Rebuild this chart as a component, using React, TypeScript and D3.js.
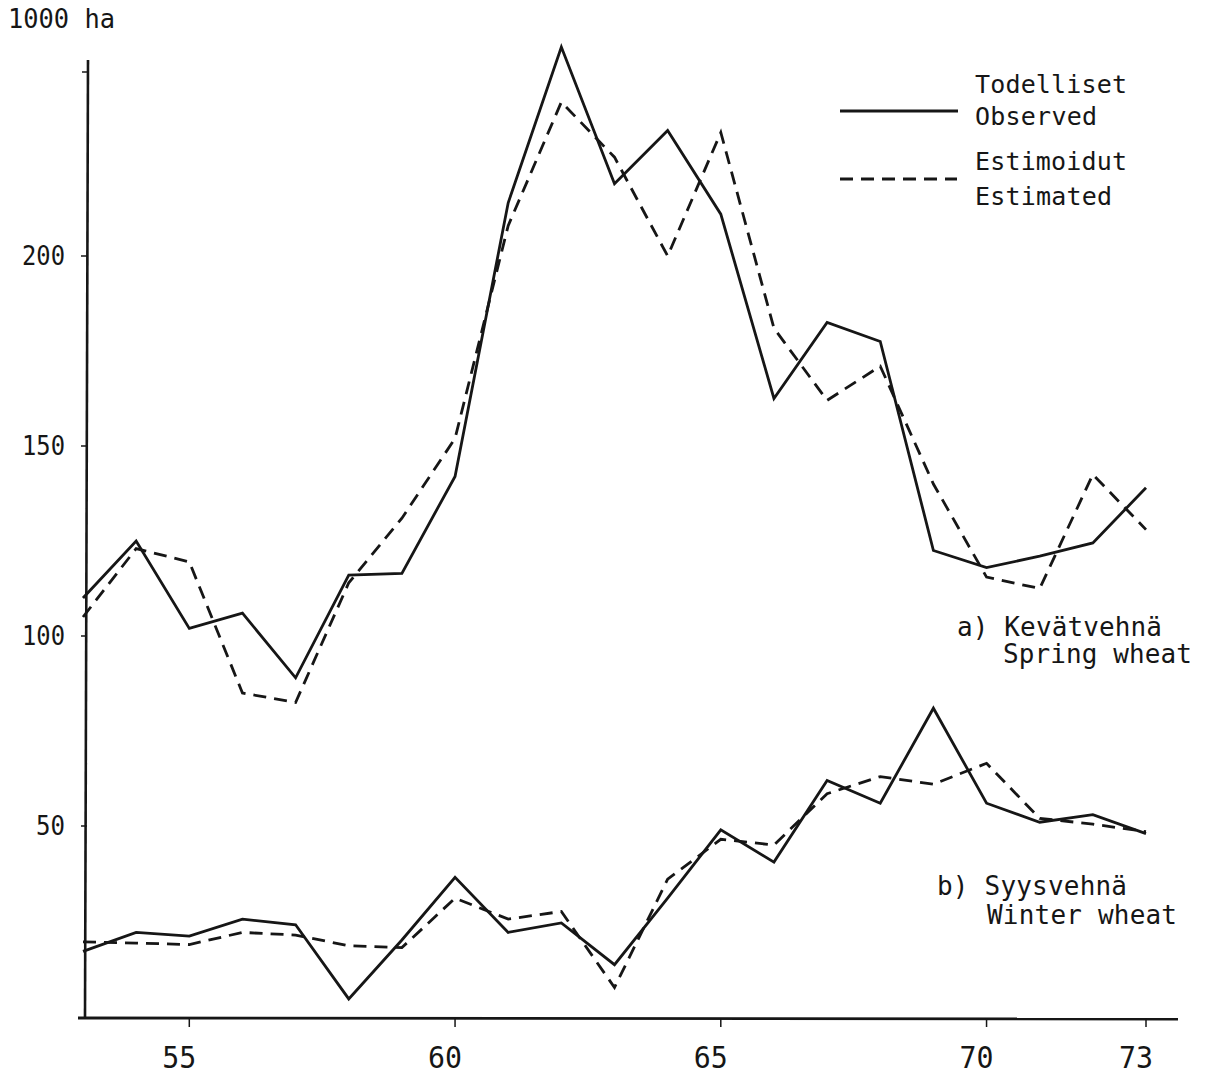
import * as d3 from "d3";

const years = d3.range(1953, 1974);

// spring wheat, 1000 ha
const springObserved = [110, 125, 102, 106, 89, 116, 116.5, 142, 214, 255, 219, 233, 211, 162.5, 182.5, 177.5, 122.5, 118, 121, 124.5, 139];
const springEstimated = [105, 123, 119.5, 85, 82.5, 114, 131, 152, 208, 240.5, 226, 200, 232.5, 181, 162, 171, 140, 115.5, 112.5, 142.5, 128];

// winter wheat, 1000 ha
const winterObserved = [17, 22, 21, 25.5, 24, 4.5, 20, 36.5, 22, 24.5, 13.5, 31, 49, 40.5, 62, 56, 81, 56, 51, 53, 48];
const winterEstimated = [19.5, 19.2, 18.8, 22, 21.3, 18.5, 18, 31, 25.5, 27.5, 7.5, 36, 46.5, 45, 58.5, 63, 61, 66.5, 52, 50.5, 48.5];

const xTicks = [1955, 1960, 1965, 1970, 1973];
const yTicks = [50, 100, 150, 200];

const W = 1205;
const H = 1075;
const FONT = "'DejaVu Sans Mono', 'Liberation Mono', monospace";
const INK = "#161616";

export default function App() {
  const x = d3.scaleLinear().domain([1953, 1973]).range([83, 1146]);
  const y = d3.scaleLinear().domain([0, 200]).range([1016, 256]);

  const line = d3
    .line<number>()
    .x((_, i) => x(years[i]))
    .y((d) => y(d));

  const series = [
    { values: springObserved, dashed: false },
    { values: springEstimated, dashed: true },
    { values: winterObserved, dashed: false },
    { values: winterEstimated, dashed: true },
  ];

  return (
    <svg width={W} height={H} style={{ position: "absolute", left: 0, top: 0, background: "#fff" }}>
      <rect width={W} height={H} fill="#fff" />

      {/* unit label */}
      <text x={8} y={28} fontFamily={FONT} fontSize={26} fill={INK} textLength={107} lengthAdjust="spacingAndGlyphs">
        1000 ha
      </text>

      {/* y axis */}
      <line x1={88} y1={60} x2={85} y2={1018} stroke={INK} strokeWidth={2.6} />
      <line x1={82} y1={72} x2={88} y2={72} stroke={INK} strokeWidth={1.5} />
      {yTicks.map((t) => (
        <g key={t}>
          <line x1={81} y1={y(t)} x2={87} y2={y(t)} stroke={INK} strokeWidth={1.5} />
          <text
            x={65}
            y={y(t)}
            dy="0.36em"
            textAnchor="end"
            fontFamily={FONT}
            fontSize={26}
            fill={INK}
            textLength={t >= 100 ? 43 : 29}
            lengthAdjust="spacingAndGlyphs"
          >
            {t}
          </text>
        </g>
      ))}

      {/* x axis */}
      <line x1={78} y1={1018} x2={1178} y2={1019} stroke={INK} strokeWidth={2.8} />
      {xTicks.map((t) => (
        <g key={t}>
          <line x1={x(t)} y1={1018} x2={x(t)} y2={1027} stroke={INK} strokeWidth={1.5} />
          <text
            x={x(t) - 10}
            y={1068}
            textAnchor="middle"
            fontFamily={FONT}
            fontSize={30}
            fill={INK}
            textLength={34}
            lengthAdjust="spacingAndGlyphs"
          >
            {String(t).slice(2)}
          </text>
        </g>
      ))}

      {/* data lines */}
      {series.map((s, i) => (
        <path
          key={i}
          d={line(s.values) || ""}
          fill="none"
          stroke={INK}
          strokeWidth={2.8}
          strokeDasharray={s.dashed ? "13 8" : undefined}
          strokeLinejoin="miter"
        />
      ))}

      {/* legend */}
      <line x1={840} y1={111} x2={958} y2={111} stroke={INK} strokeWidth={2.8} />
      <line x1={840} y1={179} x2={957} y2={179} stroke={INK} strokeWidth={2.8} strokeDasharray="13 8" />
      <text x={975} y={93} fontFamily={FONT} fontSize={25} fill={INK} textLength={152} lengthAdjust="spacing">
        Todelliset
      </text>
      <text x={975} y={125} fontFamily={FONT} fontSize={25} fill={INK} textLength={122} lengthAdjust="spacing">
        Observed
      </text>
      <text x={975} y={170} fontFamily={FONT} fontSize={25} fill={INK} textLength={152} lengthAdjust="spacing">
        Estimoidut
      </text>
      <text x={975} y={205} fontFamily={FONT} fontSize={25} fill={INK} textLength={137} lengthAdjust="spacing">
        Estimated
      </text>

      {/* series labels */}
      <text x={957} y={636} fontFamily={FONT} fontSize={26} fill={INK} textLength={205} lengthAdjust="spacing">
        a) Kevätvehnä
      </text>
      <text x={1003} y={663} fontFamily={FONT} fontSize={26} fill={INK} textLength={189} lengthAdjust="spacing">
        Spring wheat
      </text>
      <text x={937} y={895} fontFamily={FONT} fontSize={26} fill={INK} textLength={190} lengthAdjust="spacing">
        b) Syysvehnä
      </text>
      <text x={987} y={924} fontFamily={FONT} fontSize={26} fill={INK} textLength={190} lengthAdjust="spacing">
        Winter wheat
      </text>
    </svg>
  );
}
